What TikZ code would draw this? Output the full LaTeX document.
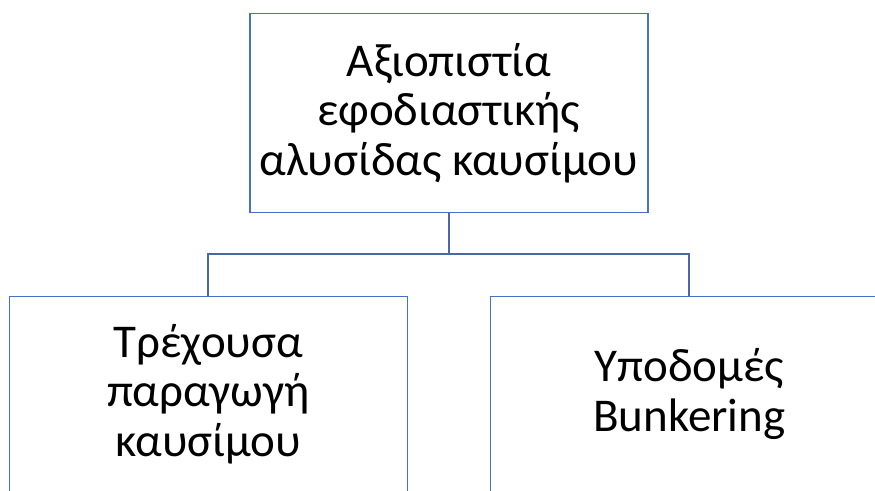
\documentclass[tikz,border=0pt]{standalone}
\usepackage{fontspec}
\setmainfont{Carlito}
\definecolor{boxblue}{HTML}{4472C4}
\definecolor{linkblue}{HTML}{4A67A6}
\tikzset{
  box/.style={draw=boxblue, line width=1.5pt, rectangle, inner sep=0pt, align=center,
    font=\fontsize{47}{49.5}\selectfont, text=black},
  link/.style={draw=linkblue, line width=1.8pt}
}
\begin{document}
\begin{tikzpicture}[x=1pt,y=-1pt]
\useasboundingbox (0,0) rectangle (875,490);
\clip (0,0) rectangle (875,490);
\node[box, minimum width=397.7pt, minimum height=199.2pt] (top) at (448.9,113.1)
  {Αξιοπιστία\\εφοδιαστικής\\αλυσίδας καυσίμου};
\node[box, minimum width=398pt, minimum height=194.6pt] (left) at (208.3,394)
  {Τρέχουσα\\παραγωγή\\καυσίμου};
\node[box, minimum width=398pt, minimum height=194.6pt] (right) at (689.3,394)
  {Υποδομές\\Bunkering};
\coordinate (j) at (448.9,254.3);
\draw[link] (top.south) -- (j);
\draw[link] (j) -| (left.north);
\draw[link] (j) -| (right.north);
\end{tikzpicture}
\end{document}
